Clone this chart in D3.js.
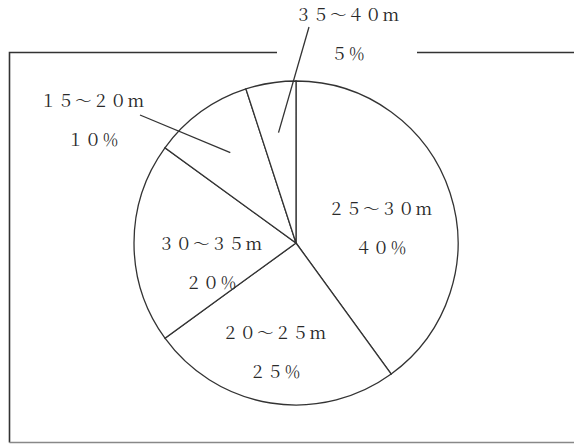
<!DOCTYPE html>
<html>
<head>
<meta charset="utf-8">
<script src="https://cdn.jsdelivr.net/npm/d3@7"></script>
<style>
  body { margin: 0; background: #fff; }
  svg { display: block; }
</style>
</head>
<body>
<div id="chart"></div>
<script>
// data, clockwise from 12 o'clock
let categories = ['25～30m', '20～25m', '30～35m', '15～20m', '35～40m']
let shares = [40, 25, 20, 10, 5]
let pctLabels = ['40%', '25%', '20%', '10%', '5%']

// label layout (centre of name line), leader start for outside labels
let labelPos = [
  {x: 380, y: 209},
  {x: 274, y: 333},
  {x: 210, y: 244},
  {x: 92, y: 101, lead: [140, 115]},
  {x: 347, y: 15, lead: [309, 27]}
]

let W = 574, H = 444
let cx = 296, cy = 243, R = 162
let pitch = 17.5

let svg = d3.select('#chart').append('svg')
  .attr('width', W).attr('height', H)

// frame with a gap on top
let frame = svg.append('g').attr('fill', 'none')
frame.append('path')
  .attr('d', 'M277,52.5 H9.5 V442.5')
  .attr('stroke', '#333').attr('stroke-width', 1.6)
frame.append('path')
  .attr('d', 'M417,52.5 H574')
  .attr('stroke', '#333').attr('stroke-width', 1.6)
frame.append('path')
  .attr('d', 'M9.5,442.5 H574')
  .attr('stroke', '#888').attr('stroke-width', 1.4)

let pie = d3.pie().sort(null).value(d => d)
let arcs = pie(shares)
let arc = d3.arc().innerRadius(0).outerRadius(R)
let inner = d3.arc().innerRadius(R * 0.69).outerRadius(R * 0.69)

let g = svg.append('g').attr('transform', 'translate(' + cx + ',' + cy + ')')
g.selectAll('path')
  .data(arcs)
  .enter()
  .append('path')
  .attr('d', arc)
  .attr('fill', '#fff')
  .attr('stroke', '#333')
  .attr('stroke-width', 1.3)

// leader lines for the narrow slices
arcs.forEach(function(a, i){
  let p = labelPos[i]
  if (!p.lead) return
  let c = inner.centroid(a)
  svg.append('line')
    .attr('x1', p.lead[0]).attr('y1', p.lead[1])
    .attr('x2', cx + c[0]).attr('y2', cy + c[1])
    .attr('stroke', '#333').attr('stroke-width', 1.3)
})

// full-width characters, fixed pitch
function fw(ch){
  if (ch === '%') return '％'
  let code = ch.charCodeAt(0)
  if (code > 32 && code < 127) return String.fromCharCode(code + 0xFEE0)
  return ch
}
function spaced(str, x, y){
  let chars = Array.from(str).map(fw)
  let t = svg.append('text')
    .attr('text-anchor', 'middle')
    .style('font-family', "'Noto Serif CJK JP', 'Liberation Serif', serif")
    .style('font-size', '16.5px')
    .attr('fill', '#2a2a2a')
  chars.forEach(function(ch, k){
    t.append('tspan')
      .attr('x', x + (k - (chars.length - 1) / 2) * pitch)
      .attr('y', y + 6)
      .text(ch)
  })
}

categories.forEach(function(c, i){
  let p = labelPos[i]
  spaced(c, p.x, p.y)
  spaced(pctLabels[i], p.x + 1, p.y + 39)
})
</script>
</body>
</html>
